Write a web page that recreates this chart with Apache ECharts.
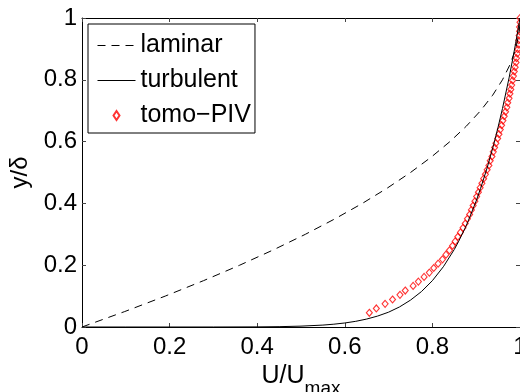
<!DOCTYPE html>
<html><head><meta charset="utf-8">
<script src="https://cdn.jsdelivr.net/npm/echarts@6/dist/echarts.min.js"></script>
<style>html,body{margin:0;padding:0;background:#fff}#c{width:520px;height:392px}</style>
</head><body><div id="c"></div>
<script>
// ---- data ----
var seriesNames = ['laminar', 'turbulent', 'tomo\u2212PIV'];
var xTicks = [0, 0.2, 0.4, 0.6, 0.8, 1];
var yTicks = [0, 0.2, 0.4, 0.6, 0.8, 1];

// laminar: U/Umax vs y/delta
var laminarU = [0, 0.0975, 0.19, 0.2775, 0.36, 0.4375, 0.51, 0.5775, 0.64, 0.6975, 0.75, 0.7975, 0.84, 0.8775, 0.91, 0.9375, 0.96, 0.9775, 0.99, 0.994, 0.9975, 0.9994, 1];
var laminarY = [0, 0.05, 0.1, 0.15, 0.2, 0.25, 0.3, 0.35, 0.4, 0.45, 0.5, 0.55, 0.6, 0.65, 0.7, 0.75, 0.8, 0.85, 0.9, 0.925, 0.95, 0.975, 1];

// turbulent
var turbU = [0, 0.1, 0.2, 0.3, 0.4, 0.45, 0.5, 0.55, 0.575, 0.6, 0.625, 0.65, 0.675, 0.7, 0.725, 0.75, 0.775, 0.8, 0.825, 0.85, 0.86, 0.875, 0.88, 0.9, 0.91, 0.925, 0.94, 0.95, 0.96, 0.975, 0.985, 0.99, 0.995, 1];
var turbY = [0, 0, 0, 0.00004, 0.0004, 0.0011, 0.0028, 0.0062, 0.0091, 0.013, 0.0184, 0.0257, 0.0354, 0.048, 0.065, 0.087, 0.1146, 0.150, 0.195, 0.251, 0.2775, 0.321, 0.337, 0.408, 0.4486, 0.515, 0.591, 0.647, 0.707, 0.806, 0.879, 0.918, 0.958, 1];

// tomo-PIV markers
var pivU = [0.656, 0.672, 0.692, 0.709, 0.726, 0.738, 0.756, 0.768, 0.781, 0.793, 0.803, 0.813, 0.823, 0.831, 0.839, 0.846, 0.852, 0.858, 0.864, 0.870, 0.875, 0.880, 0.885, 0.889, 0.893, 0.897, 0.901, 0.905, 0.909, 0.913, 0.917, 0.921, 0.925, 0.929, 0.932, 0.936, 0.939, 0.942, 0.945, 0.949, 0.952, 0.955, 0.958, 0.961, 0.964, 0.967, 0.970, 0.972, 0.975, 0.977, 0.979, 0.981, 0.983, 0.985, 0.987, 0.989, 0.991, 0.992, 0.994, 0.995, 0.996, 0.997, 0.998, 0.999, 0.999, 1.000, 1.000];
var pivY = [0.046, 0.060, 0.075, 0.089, 0.104, 0.118, 0.133, 0.147, 0.162, 0.176, 0.191, 0.205, 0.219, 0.234, 0.248, 0.263, 0.277, 0.292, 0.306, 0.321, 0.335, 0.350, 0.364, 0.379, 0.393, 0.407, 0.422, 0.436, 0.451, 0.465, 0.480, 0.494, 0.509, 0.523, 0.538, 0.552, 0.567, 0.581, 0.595, 0.610, 0.624, 0.639, 0.653, 0.668, 0.682, 0.697, 0.711, 0.726, 0.740, 0.755, 0.769, 0.783, 0.798, 0.812, 0.827, 0.841, 0.856, 0.870, 0.885, 0.899, 0.914, 0.928, 0.943, 0.957, 0.971, 0.986, 1.000];

function zip(a, b) { return a.map(function (v, i) { return [v, b[i]]; }); }

var FONT = 'Liberation Sans';
var DASH = [8, 6];
var chart = echarts.init(document.getElementById('c'), null, { renderer: 'canvas' });

function axisCommon(showLabel) {
  return {
    type: 'value', min: 0, max: 1, interval: 0.2,
    axisLine: { show: true, onZero: false, lineStyle: { color: '#000', width: 1 } },
    axisTick: { show: true, inside: true, length: 4, lineStyle: { color: '#444', width: 1 } },
    splitLine: { show: false },
    axisLabel: {
      show: showLabel, color: '#000', fontFamily: FONT, fontSize: 24, lineHeight: 24,
      showMinLabel: true, showMaxLabel: true, hideOverlap: false,
      formatter: function (v) { return String(+v.toFixed(1)); }
    }
  };
}

var xMain = axisCommon(true);
xMain.position = 'bottom';
xMain.axisLabel.margin = 8;
xMain.name = '{a|U/U}{b|max}';
xMain.nameLocation = 'middle';
xMain.nameGap = 22;
xMain.nameTextStyle = {
  color: '#000', fontFamily: FONT,
  rich: {
    a: { fontSize: 25, lineHeight: 44, fontFamily: FONT, color: '#000', verticalAlign: 'middle' },
    b: { fontSize: 19, lineHeight: 19, fontFamily: FONT, color: '#000', verticalAlign: 'bottom' }
  }
};
var xTop = axisCommon(false); xTop.position = 'top';

var yMain = axisCommon(true);
yMain.position = 'left';
yMain.axisLabel.margin = 5;
yMain.name = 'y/\u03b4';
yMain.nameLocation = 'middle';
yMain.nameGap = 47;
yMain.nameTextStyle = { color: '#000', fontFamily: FONT, fontSize: 24 };
var yRight = axisCommon(false); yRight.position = 'right';

chart.setOption({
  animation: false,
  backgroundColor: '#fff',
  grid: { left: 82, right: 0, top: 18, bottom: 65, containLabel: false, outerBoundsMode: 'none' },
  xAxis: [xMain, xTop],
  yAxis: [yMain, yRight],
  legend: {
    left: 88, top: 24, orient: 'vertical',
    backgroundColor: '#fff', borderColor: '#000', borderWidth: 1, borderRadius: 0,
    padding: [9, 4, 5, 9],
    itemWidth: 38, itemHeight: 9, itemGap: 10,
    textStyle: { color: '#000', fontFamily: FONT, fontSize: 25, lineHeight: 20 },
    data: [
      { name: seriesNames[0], icon: 'line', itemStyle: { color: '#000', borderColor: '#000', borderWidth: 1, borderType: DASH } },
      { name: seriesNames[1], icon: 'line', itemStyle: { color: '#000', borderColor: '#000', borderWidth: 1, borderType: 'solid' } },
      { name: seriesNames[2], icon: 'path://M3,0 L6,4.5 L3,9 L0,4.5 Z' }
    ]
  },
  series: [
    {
      name: seriesNames[0], type: 'line', data: zip(laminarU, laminarY),
      symbol: 'none', smooth: false,
      lineStyle: { color: '#000', width: 1, type: DASH }, itemStyle: { color: '#000' }
    },
    {
      name: seriesNames[1], type: 'line', data: zip(turbU, turbY),
      symbol: 'none', smooth: false,
      lineStyle: { color: '#000', width: 1 }, itemStyle: { color: '#000' }
    },
    {
      name: seriesNames[2], type: 'scatter', data: zip(pivU, pivY),
      symbol: 'diamond', symbolSize: [6, 7],
      itemStyle: { color: 'rgba(255,255,255,0)', borderColor: '#ff0000', borderWidth: 1.1 }
    }
  ]
});
</script>
</body></html>
